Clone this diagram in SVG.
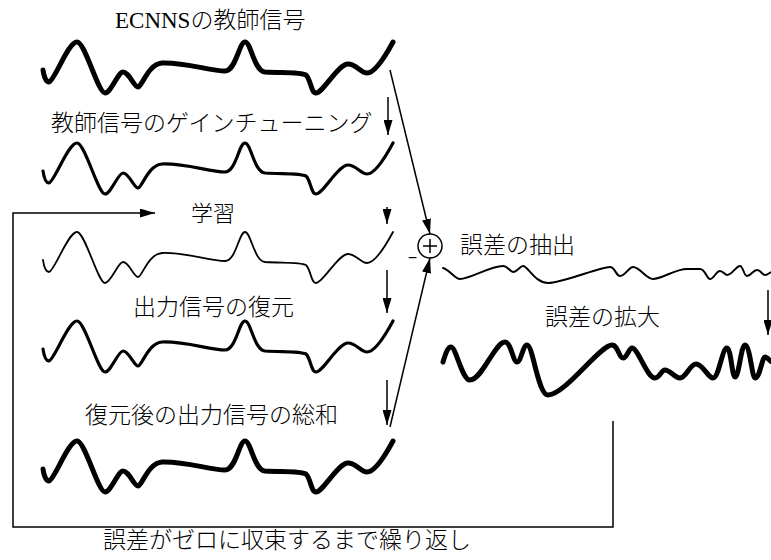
<svg xmlns="http://www.w3.org/2000/svg" xmlns:xlink="http://www.w3.org/1999/xlink" width="771" height="560" viewBox="0 0 771 560">
<style>
.lbl{font-family:"Noto Sans CJK JP","Liberation Sans",sans-serif;font-size:23px;font-weight:300;fill:#000}
.ser{font-family:"Liberation Serif","Noto Sans CJK JP",serif;font-size:23px;font-weight:300;fill:#000}
.wave{fill:none;stroke:#000;stroke-linecap:round;stroke-linejoin:round}
.con{fill:none;stroke:#000;stroke-width:1.5}
</style>
<defs>
<marker id="ah" viewBox="0 0 15 9" refX="15" refY="4.5" markerWidth="15" markerHeight="9" markerUnits="userSpaceOnUse" orient="auto">
<path d="M0,0 L15,4.5 L0,9 z" fill="#000"/>
</marker>
<path id="sig" d="M43,70 C44,77 46,82 49,82 C55,80 68,42 77,42 C85,42 98,93 105,93 C111,93 118,72 123,72 C129,72 134,87 138,87 C142,87 148,64 162,63 C185,62 210,71 225,71 C236,71 239,42 245,42 C251,42 254,71 265,72 C285,73 300,72 306,75 C311,80 311,93 316,93 C323,93 338,64 348,64 C356,64 361,73 367,73 C375,73 386,55 393,42"/>
</defs>
<rect width="771" height="560" fill="#fff"/>

<g id="teacher">
<text class="ser" x="115" y="28">ECNNSの教師信号</text>
<use xlink:href="#sig" class="wave" stroke-width="5"/>
</g>

<g id="gain-tuning">
<text class="lbl" x="51" y="131">教師信号のゲインチューニング</text>
<use xlink:href="#sig" class="wave" stroke-width="3.2" transform="translate(0,101)"/>
</g>

<g id="learning">
<text class="lbl" x="191" y="221" style="font-size:22px">学習</text>
<use xlink:href="#sig" class="wave" stroke-width="1.8" transform="translate(0,190)"/>
</g>

<g id="restore">
<text class="lbl" x="133" y="315">出力信号の復元</text>
<use xlink:href="#sig" class="wave" stroke-width="3.2" transform="translate(0,279)"/>
</g>

<g id="sum">
<text class="lbl" x="85" y="423">復元後の出力信号の総和</text>
<use xlink:href="#sig" class="wave" stroke-width="5" transform="translate(0,399)"/>
</g>

<g id="junction">
<circle cx="430" cy="246" r="12" fill="none" stroke="#000" stroke-width="1.5"/>
<path d="M423,246 H437 M430,239 V253" stroke="#000" stroke-width="1.5"/>
<text x="412.5" y="263" text-anchor="middle" style="font-family:'Liberation Sans',sans-serif;font-size:16px">−</text>
</g>

<g id="error">
<text class="lbl" x="460" y="253">誤差の抽出</text>
<path class="wave" stroke-width="2" d="M443,268 C450,270 455,279 460,279 C470,279 490,266 503,266 C508,266 510,272 513,272 C517,272 520,266 523,266 C528,266 535,283 548,283 C562,283 600,267 610,267 C615,267 616,276 620,276 C625,276 629,267 633,267 C640,267 646,279 653,279 C662,279 675,269 687,269 L700,269 C705,269 707,279 710,279 C714,279 716,271 720,271 C723,271 725,275 727,275 C732,275 736,266 740,266 C743,266 744,276 747,276 C751,276 753,270 757,270 C761,270 762,275 765,275 C768,275 770,272 772,272"/>
</g>

<g id="amplified-error">
<text class="lbl" x="545" y="325">誤差の拡大</text>
<path class="wave" stroke-width="5" d="M443,362 C446,352 448,347 451,347 C456,347 462,380 470,380 C482,380 495,342 505,342 C511,342 513,362 517,362 C521,362 523,345 527,345 C533,345 538,395 548,395 C565,395 600,345 612,345 C618,345 619,358 623,358 C627,358 629,348 632,348 C638,348 647,378 655,378 C660,378 661,370 665,370 C670,370 675,378 680,378 C686,378 690,364 696,364 C703,364 708,378 713,378 C719,378 722,348 727,348 C731,348 732,377 735,377 C739,377 741,345 745,345 C750,345 752,378 755,378 C760,378 762,357 765,357 C768,357 770,362 772,362"/>
</g>

<g id="loop-label">
<text class="lbl" x="103" y="548">誤差がゼロに収束するまで繰り返し</text>
</g>

<g id="connectors">
<path class="con" d="M388,97 V135" marker-end="url(#ah)"/>
<path class="con" d="M387,207 V224" marker-end="url(#ah)"/>
<path class="con" d="M387,270 V313" marker-end="url(#ah)"/>
<path class="con" d="M387,380 V425" marker-end="url(#ah)"/>
<path class="con" d="M390,70 L430,234" marker-end="url(#ah)"/>
<path class="con" d="M390,427 L430,258" marker-end="url(#ah)"/>
<path class="con" d="M613,421 V527 H13 V213 H155" marker-end="url(#ah)"/>
<path class="con" d="M768,290 V335" marker-end="url(#ah)"/>
</g>
</svg>
